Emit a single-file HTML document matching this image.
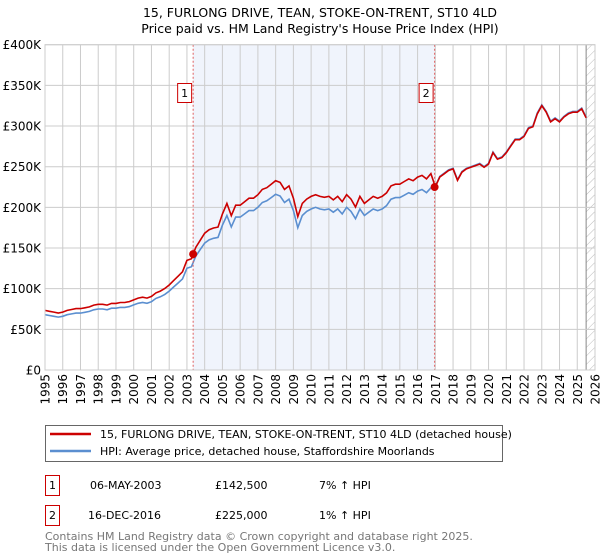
<!DOCTYPE html>
<html><head><meta charset="utf-8"><style>
body{margin:0;background:#fff;font-family:"DejaVu Sans","Liberation Sans",sans-serif;}
svg{display:block}
</style></head><body>
<svg id="chart" width="600" height="560">
<text x="320" y="17" text-anchor="middle" font-size="12.5">15, FURLONG DRIVE, TEAN, STOKE-ON-TRENT, ST10 4LD</text>
<text x="320" y="33" text-anchor="middle" font-size="12.5">Price paid vs. HM Land Registry's House Price Index (HPI)</text>
<g id="plot"></g>
<g>
<rect x="45.5" y="425.5" width="457" height="36" fill="#fff" stroke="#666"/>
<line x1="50" y1="434" x2="91" y2="434" stroke="#cc0000" stroke-width="2.5"/>
<text x="100" y="438" font-size="11">15, FURLONG DRIVE, TEAN, STOKE-ON-TRENT, ST10 4LD (detached house)</text>
<line x1="50" y1="451" x2="91" y2="451" stroke="#5b8fd0" stroke-width="2.5"/>
<text x="100" y="455" font-size="11">HPI: Average price, detached house, Staffordshire Moorlands</text>
</g>
<g font-size="11">
<rect x="45.5" y="475.5" width="14" height="20" fill="#fff" stroke="#cc0000"/>
<text x="52.5" y="489" text-anchor="middle">1</text>
<text x="90" y="489">06-MAY-2003</text>
<text x="215" y="489">£142,500</text>
<text x="319" y="489">7% ↑ HPI</text>
<rect x="45.5" y="505.5" width="14" height="20" fill="#fff" stroke="#cc0000"/>
<text x="52.5" y="519" text-anchor="middle">2</text>
<text x="88" y="519">16-DEC-2016</text>
<text x="215" y="519">£225,000</text>
<text x="319" y="519">1% ↑ HPI</text>
</g>
<text x="45" y="540" font-size="11" fill="#777">Contains HM Land Registry data © Crown copyright and database right 2025.</text>
<text x="45" y="551" font-size="11" fill="#777">This data is licensed under the Open Government Licence v3.0.</text>
</svg>
<script>
const yearTicks=[1995,1996,1997,1998,1999,2000,2001,2002,2003,2004,2005,2006,2007,2008,2009,2010,2011,2012,2013,2014,2015,2016,2017,2018,2019,2020,2021,2022,2023,2024,2025,2026];
const valueTicks=[0,50,100,150,200,250,300,350,400];
const valueLabels=["£0","£50K","£100K","£150K","£200K","£250K","£300K","£350K","£400K"];
const hpiStart=1995.0;
const hpiValues=[68,67,66,65, 66,68,69,70, 70,71,72,74, 75,75,74,76, 76,77,77,78, 80,82,83,82, 84,88,90,93, 97,102,107,112, 125,127,140,148,
156,160,162,163, 178,190,176,188, 188,192,196,196, 200,206,208,212, 216,214,206,210, 196,175,190,195, 198,200,198,197, 198,194,198,192,
200,195,186,198, 190,194,198,196, 198,202,210,212, 212,215,218,216, 220,222,218,224,
226,238,242,246, 248,234,244,248, 250,252,254,250, 254,268,260,262, 268,276,284,284, 288,298,300,316, 326,318,306,310, 306,312,316,318, 318,322,311];
const saleYears=[2003.35,2016.96];
const salePrices=[142.5,225];
const saleLabels=["1","2"];
const dataEndYear=2025.5;

const X0=45,X1=595,Y0=370,Y1=44.7;
const xs=y=>X0+(y-1995)/(2026-1995)*(X1-X0);
const ys=v=>Y0-v/400*(Y0-Y1);
const NS="http://www.w3.org/2000/svg";
const g=document.getElementById('plot');
function mk(t,a){const e=document.createElementNS(NS,t);for(const k in a)e.setAttribute(k,a[k]);g.appendChild(e);return e;}

let r=mk('rect',{x:xs(saleYears[0]),y:Y1,width:xs(saleYears[1])-xs(saleYears[0]),height:Y0-Y1,fill:'#f0f4fc'});


const defs=document.createElementNS(NS,'defs');
defs.innerHTML='<pattern id="h" width="6" height="6" patternUnits="userSpaceOnUse" patternTransform="rotate(45)"><line x1="0" y1="0" x2="0" y2="6" stroke="#bbb" stroke-width="1"/></pattern>';
g.appendChild(defs);
let hr=mk('rect',{x:xs(dataEndYear),y:Y1,width:X1-xs(dataEndYear),height:Y0-Y1,fill:'url(#h)'});


let hl=mk('line',{x1:xs(dataEndYear),x2:xs(dataEndYear),y1:Y1,y2:Y0,stroke:'#888','stroke-width':1});


yearTicks.forEach((yr,i)=>{
 const x=xs(yr);
 let l=mk('line',{x1:x,x2:x,y1:Y1,y2:Y0,stroke:'#cccccc','stroke-width':1});
 
 
 let t=mk('text',{x:0,y:0,'font-size':12,'text-anchor':'end',transform:`translate(${x+4.5},${Y0+4}) rotate(-90)`});
 t.textContent=yr;
 
 
});
valueTicks.forEach((v,i)=>{
 const y=ys(v);
 let l=mk('line',{x1:X0,x2:X1,y1:y,y2:y,stroke:'#cccccc','stroke-width':1});
 
 
 let t=mk('text',{x:X0-4,y:y+4.5,'font-size':12,'text-anchor':'end'});
 t.textContent=valueLabels[i];
 
 
});
const hpiYear=i=>hpiStart+i*0.25;
function hpiAt(yr){const f=(yr-hpiStart)/0.25,i=Math.min(Math.floor(f),hpiValues.length-2),t=f-i;return hpiValues[i]*(1-t)+hpiValues[i+1]*t;}
const ratios=saleYears.map((s,k)=>salePrices[k]/hpiAt(s));
function ratioAt(yr){return yr<saleYears[1]?ratios[0]:ratios[1];}
let bp=hpiValues.map((v,i)=>`${xs(hpiYear(i)).toFixed(1)},${ys(v).toFixed(1)}`).join(' ');
let bl=mk('polyline',{points:bp,fill:'none',stroke:'#5b8fd0','stroke-width':1.6});


let rp=hpiValues.map((v,i)=>`${xs(hpiYear(i)).toFixed(1)},${ys(v*ratioAt(hpiYear(i))).toFixed(1)}`).join(' ');
let rl=mk('polyline',{points:rp,fill:'none',stroke:'#cc0000','stroke-width':1.6});


saleYears.forEach((s,k)=>{
 const x=xs(s);
 let d=mk('line',{x1:x,x2:x,y1:Y1,y2:Y0,stroke:'#e06060','stroke-width':1,'stroke-dasharray':'2,2'});
 
 
 let c=mk('circle',{cx:x,cy:ys(salePrices[k]),r:4,fill:'#cc0000'});
 
 
 let b=mk('rect',{x:x-15.5,y:83.5,width:14,height:19,fill:'#fff',stroke:'#cc0000'});
 
 
 let t=mk('text',{x:x-8.5,y:97,'font-size':11,'text-anchor':'middle'});
 t.textContent=saleLabels[k];
 
 
});
let fr=mk('rect',{x:X0,y:Y1,width:X1-X0,height:Y0-Y1,fill:'none',stroke:'#ccc'});


</script>
</body></html>
